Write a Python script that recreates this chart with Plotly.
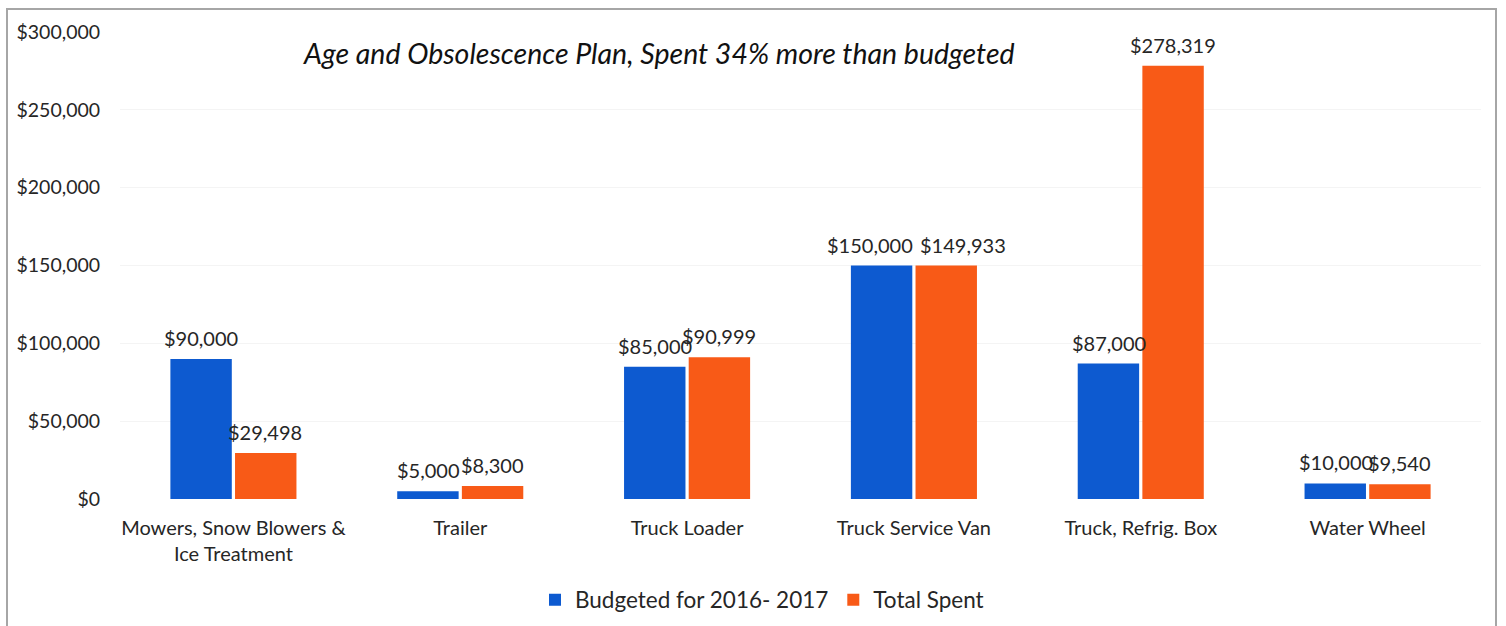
import plotly.graph_objects as go

categories = [
    "Mowers, Snow Blowers &<br>Ice Treatment",
    "Trailer",
    "Truck Loader",
    "Truck Service Van",
    "Truck, Refrig. Box",
    "Water Wheel",
]
budgeted = [90000, 5000, 85000, 150000, 87000, 10000]
spent = [29498, 8300, 90999, 149933, 278319, 9540]
tick_vals = [0, 50000, 100000, 150000, 200000, 250000, 300000]
tick_text = ["$0", "$50,000", "$100,000", "$150,000", "$200,000", "$250,000", "$300,000"]

BLUE = "#0d5ad0"
ORANGE = "#f85a17"
TEXT = "#262626"
FONT = "Lato, Open Sans, sans-serif"

# horizontal pixel offset of each series' bar from its category centre
BAR_OFFSET = {"budgeted": -32, "spent": 32}
# extra sideways nudges for labels that would otherwise collide
LABEL_NUDGE = {("budgeted", 3): -12, ("spent", 3): 17}


def money(v):
    return "${:,}".format(v)


fig = go.Figure()
fig.add_trace(go.Bar(
    name="Budgeted for 2016- 2017", x=categories, y=budgeted,
    marker=dict(color=BLUE, line=dict(width=0)),
))
fig.add_trace(go.Bar(
    name="Total Spent", x=categories, y=spent,
    marker=dict(color=ORANGE, line=dict(width=0)),
))

W, H = 1506, 626
L, R, T, B = 120, 25, 32, 127
pw, ph = W - L - R, H - T - B


def px_x(x):
    return (x - L) / pw


def px_y(y):
    return (H - B - y) / ph


annotations = [dict(
    text="<i>Age and Obsolescence Plan, Spent 34% more than budgeted</i>",
    xref="paper", yref="paper", x=px_x(659), y=px_y(53),
    xanchor="center", yanchor="middle", showarrow=False,
    font=dict(size=28.5, color="#111111", family=FONT),
)]

for key, values in (("budgeted", budgeted), ("spent", spent)):
    for i, (cat, v) in enumerate(zip(categories, values)):
        annotations.append(dict(
            text=money(v), x=cat, y=v, xref="x", yref="y",
            xanchor="center", yanchor="bottom", showarrow=False,
            xshift=BAR_OFFSET[key] + LABEL_NUDGE.get((key, i), 0), yshift=7,
            font=dict(size=20, color=TEXT, family=FONT),
        ))

fig.update_layout(
    width=W, height=H,
    margin=dict(l=L, r=R, t=T, b=B, autoexpand=False),
    paper_bgcolor="white", plot_bgcolor="white",
    barmode="group", bargap=0.43, bargroupgap=0.05,
    font=dict(family=FONT, size=20, color=TEXT),
    showlegend=True,
    legend=dict(
        orientation="h", xref="container", yref="container",
        x=762 / W, xanchor="center",
        y=(H - 600) / H, yanchor="middle",
        font=dict(size=22.5, color=TEXT), itemwidth=30,
        traceorder="normal",
    ),
    xaxis=dict(
        automargin=False,
        showline=False, showgrid=False, zeroline=False,
        ticks="outside", ticklen=11, tickcolor="rgba(0,0,0,0)",
        tickfont=dict(size=20, color=TEXT),
    ),
    yaxis=dict(
        automargin=False,
        range=[0, 300000], tickvals=tick_vals, ticktext=tick_text,
        showgrid=True, gridcolor="#f4f4f4", gridwidth=1,
        zeroline=False, showline=False,
        ticks="outside", ticklen=15, tickcolor="rgba(0,0,0,0)",
        tickfont=dict(size=19.5, color=TEXT),
    ),
    annotations=annotations,
    shapes=[dict(
        type="rect", xref="paper", yref="paper",
        x0=px_x(7), x1=px_x(1496), y0=px_y(650), y1=px_y(9),
        line=dict(color="#a6a6a6", width=2), layer="below",
    )],
)

fig.write_html("out.html")
